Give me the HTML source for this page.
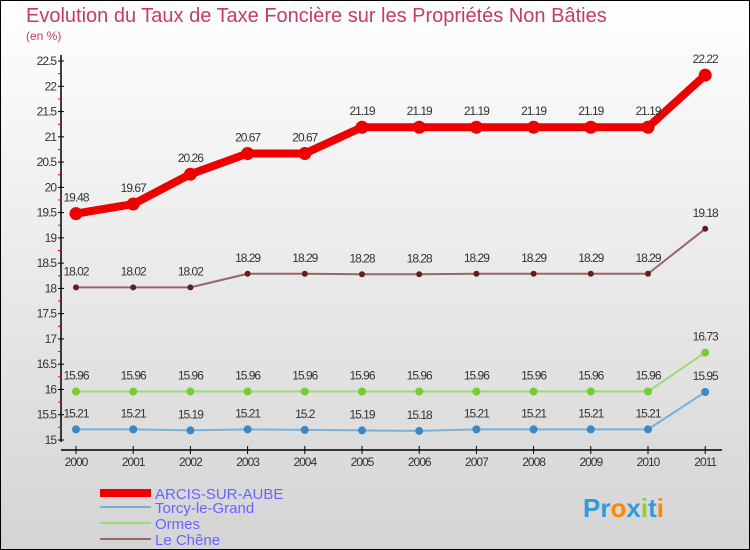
<!DOCTYPE html>
<html><head><meta charset="utf-8"><style>
body{margin:0;width:750px;height:550px;overflow:hidden}
svg{display:block;font-family:"Liberation Sans",sans-serif}
</style></head><body>
<svg width="750" height="550">
<defs><linearGradient id="bg" x1="0" y1="0" x2="0" y2="1"><stop offset="0" stop-color="#ffffff"/><stop offset="1" stop-color="#d4d4d4"/></linearGradient></defs>
<rect x="0.5" y="0.5" width="749" height="549" fill="url(#bg)" stroke="#000"/>
<text x="26" y="22" font-size="20" fill="#c8386a">Evolution du Taux de Taxe Foncière sur les Propriétés Non Bâties</text>
<text x="26" y="40" font-size="12" fill="#c8386a">(en %)</text>
<g id="axes"></g>
<g id="series"></g>
<g>
<rect x="100" y="489" width="51" height="8" fill="#e00"/>
<text x="155" y="499" font-size="15" fill="#6666ff">ARCIS-SUR-AUBE</text>
<rect x="100" y="506" width="51" height="2" fill="#7ab0d8"/>
<text x="155" y="513" font-size="15" fill="#6666ff">Torcy-le-Grand</text>
<rect x="100" y="522" width="51" height="2" fill="#99dd77"/>
<text x="155" y="529" font-size="15" fill="#6666ff">Ormes</text>
<rect x="100" y="538" width="51" height="2" fill="#996666"/>
<text x="155" y="545" font-size="15" fill="#6666ff">Le Chêne</text>
</g>
<g font-size="26" font-weight="bold">
<text x="583" y="517"><tspan fill="#3399dd">Pr</tspan><tspan fill="#ff8800">o</tspan><tspan fill="#3399dd">x</tspan><tspan fill="#99cc33">i</tspan><tspan fill="#3399dd">t</tspan><tspan fill="#ff8800">i</tspan></text>
</g>
</svg>
<script>
const years=["2000","2001","2002","2003","2004","2005","2006","2007","2008","2009","2010","2011"];
const yTicks=[15,15.5,16,16.5,17,17.5,18,18.5,19,19.5,20,20.5,21,21.5,22,22.5];
const arcis=[19.48,19.67,20.26,20.67,20.67,21.19,21.19,21.19,21.19,21.19,21.19,22.22];
const chene=[18.02,18.02,18.02,18.29,18.29,18.28,18.28,18.29,18.29,18.29,18.29,19.18];
const ormes=[15.96,15.96,15.96,15.96,15.96,15.96,15.96,15.96,15.96,15.96,15.96,16.73];
const torcy=[15.21,15.21,15.19,15.21,15.2,15.19,15.18,15.21,15.21,15.21,15.21,15.95];
const NS="http://www.w3.org/2000/svg";
const X=i=>76+i*57.2, Y=v=>440-(v-15)*50.53;
function mk(t,a,p){const e=document.createElementNS(NS,t);for(const k in a)e.setAttribute(k,a[k]);p.appendChild(e);return e;}
const ax=document.getElementById('axes');
let e=mk('line',{x1:61,y1:55,x2:61,y2:442,stroke:'#000','stroke-width':1.5},ax);

e=mk('line',{x1:61,y1:450,x2:722,y2:450,stroke:'#000','stroke-width':1.5},ax);

yTicks.forEach(v=>{
 mk('line',{x1:58,x2:64,y1:Y(v),y2:Y(v),stroke:'#000'},ax);
 if(v<22.5)mk('line',{x1:58,x2:61,y1:Y(v+0.25),y2:Y(v+0.25),stroke:'#e00'},ax);
 const t=mk('text',{x:56,y:Y(v)+4,'font-size':12,fill:'#333','text-anchor':'end','letter-spacing':'-1'},ax);t.textContent=String(v);
 
});
years.forEach((y,i)=>{
 mk('line',{x1:X(i),x2:X(i),y1:446,y2:454,stroke:'#000'},ax);
 const t=mk('text',{x:X(i),y:466,'font-size':12,fill:'#333','text-anchor':'middle','letter-spacing':'-1'},ax);t.textContent=y;
 
});
const sg=document.getElementById('series');
function series(d,name,col,w,r,dot){
 const g=mk('g',{},sg);
 const l=mk('polyline',{points:d.map((v,i)=>X(i)+','+Y(v)).join(' '),fill:'none',stroke:col,'stroke-width':w,'stroke-linejoin':'round'},g);
 
 d.forEach((v,i)=>{
  const c=mk('circle',{cx:X(i),cy:Y(v),r:r,fill:dot},g);
  
  const t=mk('text',{x:X(i),y:Y(v)-12,'font-size':12,fill:'#333','text-anchor':'middle','letter-spacing':'-1'},g);t.textContent=String(v);
  
 });
}
series(torcy,'torcy','#7ab0d8',2,4,'#3b88c4');
series(ormes,'ormes','#99dd77',2,4,'#77cc33');
series(chene,'le-chene','#996666',2,3,'#661c1c');
series(arcis,'arcis','#e00',8,6.5,'#e00');
</script>
</body></html>
